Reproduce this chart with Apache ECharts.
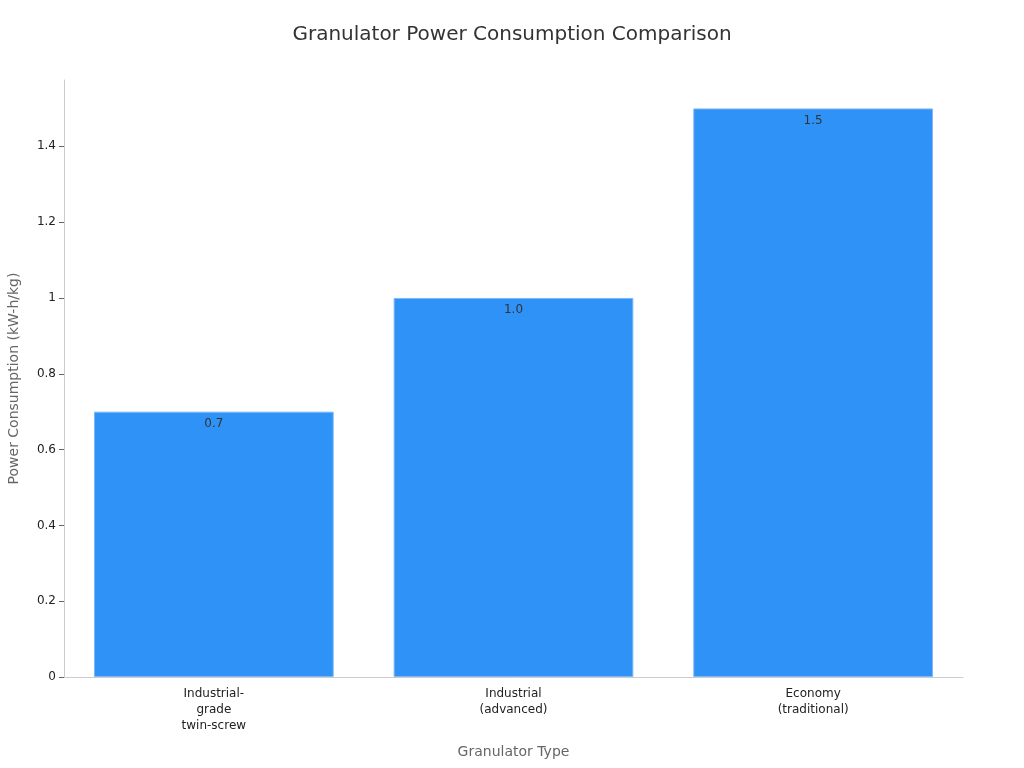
<!DOCTYPE html>
<html>
<head>
<meta charset="utf-8">
<title>Granulator Power Consumption Comparison</title>
<script src="https://cdn.jsdelivr.net/npm/echarts@6/dist/echarts.min.js"></script>
<style>
  html, body { margin: 0; padding: 0; background: #fff; }
  #chart { width: 1024px; height: 768px; }
</style>
</head>
<body>
<div id="chart"></div>
<script>
var categories = ['Industrial-\ngrade\ntwin-screw', 'Industrial\n(advanced)', 'Economy\n(traditional)'];
var power = [0.7, 1.0, 1.5];

var myChart = echarts.init(document.getElementById('chart'));
var font = 'DejaVu Sans';

var option = {
    backgroundColor: '#fff',
    textStyle: { fontFamily: font },
    title: {
        text: 'Granulator Power Consumption Comparison',
        left: 'center',
        top: 20,
        textStyle: { fontFamily: font, fontSize: 20, fontWeight: 'normal', color: '#333' }
    },
    grid: { left: 64, right: 61, top: 80, bottom: 91, outerBoundsMode: 'none', containLabel: false },
    xAxis: {
        type: 'category',
        data: categories,
        name: 'Granulator Type',
        nameLocation: 'middle',
        nameGap: 68,
        nameTextStyle: { fontFamily: font, fontSize: 14, color: '#666' },
        axisLine: { lineStyle: { color: '#ccc' } },
        axisTick: { alignWithLabel: true, length: 5, lineStyle: { color: '#666' } },
        axisLabel: { fontFamily: font, fontSize: 12, color: '#222', margin: 9, lineHeight: 16 }
    },
    yAxis: {
        type: 'value',
        min: 0,
        max: 1.575,
        interval: 0.2,
        name: 'Power Consumption (kW-h/kg)',
        nameLocation: 'middle',
        nameGap: 43,
        nameTextStyle: { fontFamily: font, fontSize: 14, color: '#666' },
        axisLine: { show: true, lineStyle: { color: '#ccc' } },
        axisTick: { show: true, length: 5, lineStyle: { color: '#666' } },
        axisLabel: {
            fontFamily: font, fontSize: 12, color: '#222', margin: 8,
            showMaxLabel: false
        },
        splitLine: { show: false }
    },
    series: [
        {
            type: 'bar',
            data: power,
            barWidth: '80%',
            itemStyle: { color: '#2f92f7', borderColor: '#7cb9f7', borderWidth: 1 },
            label: {
                show: true,
                position: 'insideTop',
                distance: 6,
                fontFamily: font,
                fontSize: 12,
                color: '#333',
                formatter: function (p) { return p.value.toFixed(1); }
            }
        }
    ]
};

if (option && typeof option === "object") {
    myChart.setOption(option, true);
}
window.onresize = function () {
    myChart.resize();
};
</script>
</body>
</html>
